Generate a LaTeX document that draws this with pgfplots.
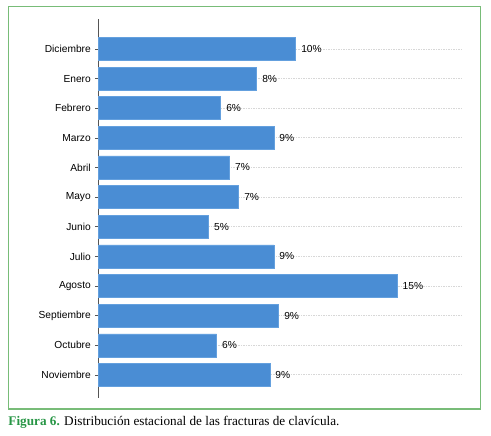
\documentclass[border=0pt]{standalone}
\usepackage{pgfplots}
\pgfplotsset{compat=1.18}
\usepackage{fontspec}
\setmainfont{Liberation Serif}
\newfontfamily\arial{Liberation Sans}
\definecolor{barblue}{RGB}{74,141,212}
\definecolor{boxgreen}{RGB}{120,188,120}
\definecolor{capgreen}{RGB}{40,150,70}
\begin{document}
\begin{tikzpicture}[x=1pt,y=1pt]
\path (0,0) rectangle (491,-436);
\draw[boxgreen, line width=1.4pt] (8.3,-6.3) rectangle (480.7,-409);
\begin{axis}[
  at={(98.3pt,-397.7pt)}, anchor=south west,
  scale only axis, width=363pt, height=378.4pt,
  xmin=0, xmax=18.33, ymin=-0.77, ymax=12.0,
  axis x line=none, axis y line*=left,
  y axis line style={draw={rgb,255:red,85;green,85;blue,85}, line width=1.2pt},
  ytick={0,...,11},
  yticklabels={Noviembre,Octubre,Septiembre,Agosto,Julio,Junio,Mayo,Abril,Marzo,Febrero,Enero,Diciembre},
  yticklabel style={font=\arial\fontsize{10.2}{12}\selectfont, text=black, xshift=-1pt},
  tick align=inside, major tick length=3pt,
  y tick style={draw={rgb,255:red,85;green,85;blue,85}, line width=0.6pt},
  ymajorgrids, grid style={draw={rgb,255:red,215;green,215;blue,215}, dash pattern=on 1.5pt off 1pt, line width=0.8pt},
  xbar, bar width=23pt,
  point meta=explicit symbolic,
  nodes near coords,
  nodes near coords style={font=\arial\fontsize{10.2}{12}\selectfont, text=black, anchor=west, xshift=2pt},
  clip=false,
]
\addplot[fill=barblue, draw={rgb,255:red,100;green,160;blue,222}, line width=0.5pt] coordinates {
 (9.97,11) [10\%]
 (8.00,10) [8\%]
 (6.18,9) [6\%]
 (8.86,8) [9\%]
 (6.63,7) [7\%]
 (7.09,6) [7\%]
 (5.57,5) [5\%]
 (8.86,4) [9\%]
 (15.09,3) [15\%]
 (9.11,2) [9\%]
 (5.97,1) [6\%]
 (8.66,0) [9\%]
};
\end{axis}
\node[anchor=base west, inner sep=0pt, font=\fontsize{13.2}{15}\selectfont] at (8.3,-425) {\textcolor{capgreen}{\textbf{Figura 6.}} Distribución estacional de las fracturas de clavícula.};
\end{tikzpicture}
\end{document}
